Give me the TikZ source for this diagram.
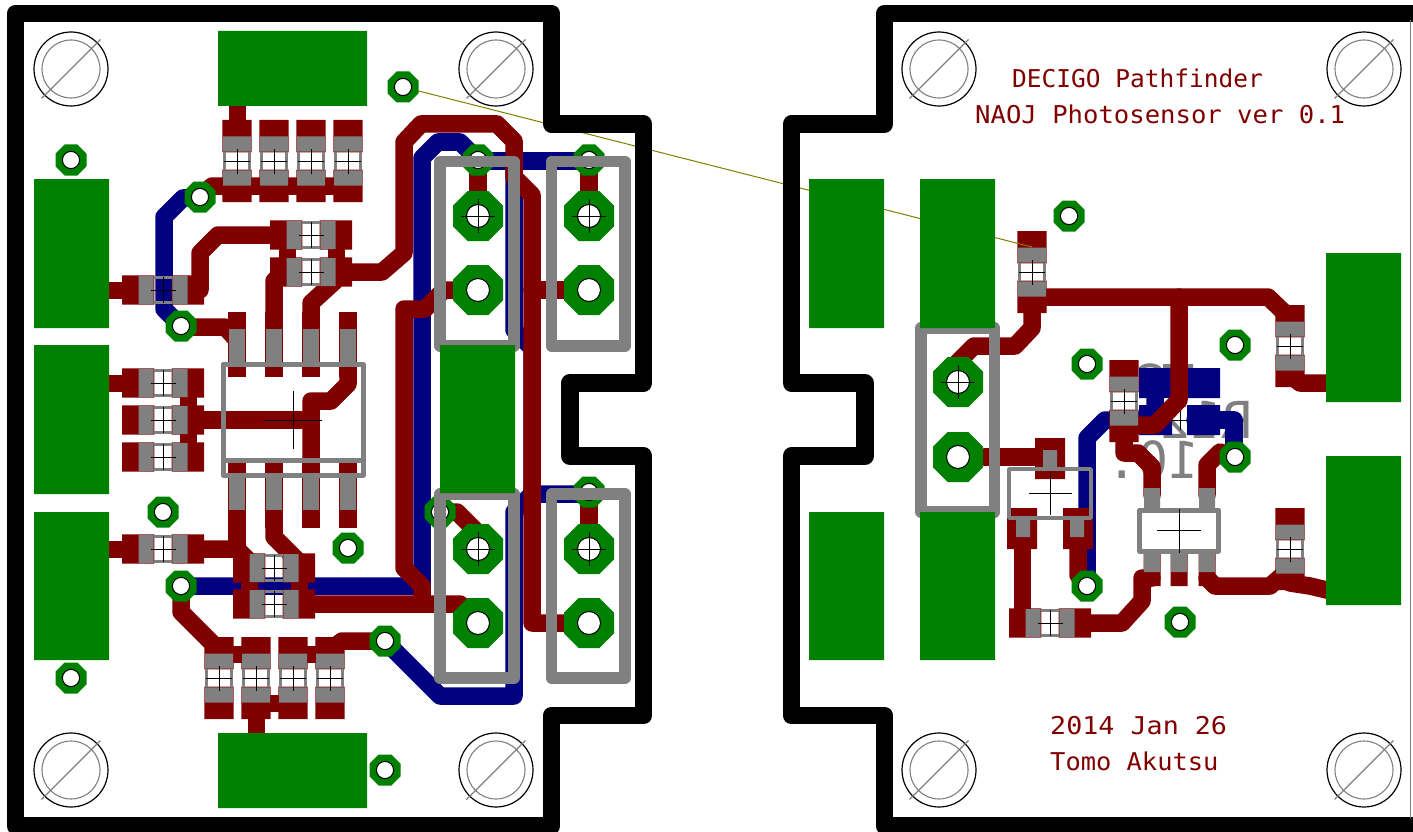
\documentclass[tikz,border=0pt]{standalone}
\usepackage{fontspec}
\newfontfamily\pcbfont{DejaVu Sans Mono}
\definecolor{pcbred}{HTML}{800000}
\definecolor{pcbblue}{HTML}{000080}
\definecolor{pcbgreen}{HTML}{008000}
\definecolor{pcbgray}{HTML}{808080}
\definecolor{airwire}{HTML}{808000}
\tikzset{
  redtrace/.style={draw=pcbred,line width=17.5pt,line cap=round,line join=round},
  bluetrace/.style={draw=pcbblue,line width=17.5pt,line cap=round,line join=round},
  redlink/.style={draw=pcbred,line width=17pt,line cap=butt},
  edge/.style={draw=black,line width=17.8pt,line join=round,line cap=butt},
  partbox/.style={draw=pcbgray,line width=11.5pt,line join=round},
  bodybox/.style={draw=pcbgray,line width=5pt,line join=round},
  crossline/.style={draw=black,line width=1pt},
  hole/.style={fill=white,draw=black,line width=1pt},
  silk/.style={anchor=base west,inner sep=0pt,text=pcbred,font=\pcbfont\fontsize{24.5}{24.5}\selectfont},
  ghost/.style={inner sep=0pt,text=pcbgray,xscale=-1,font=\pcbfont\fontsize{51}{51}\selectfont},
}
% chips: red pads and grey body, rotation as third argument
\newcommand\chipred[3]{\begin{scope}[shift={(#1,#2)},rotate=#3]
  \fill[pcbred] (-41,-14.7) rectangle (-8.7,14.7) (8.7,-14.7) rectangle (41,14.7);
\end{scope}}
\newcommand\chipbody[3]{\begin{scope}[shift={(#1,#2)},rotate=#3]
  \fill[pcbgray] (-24.5,-14) rectangle (-9.4,14) (9.4,-14) rectangle (24.5,14);
  \draw[pcbgray,line width=3.5pt] (-9.4,-12.5) -- (9.4,-12.5) (-9.4,12.5) -- (9.4,12.5);
  \draw[crossline] (-12.5,0) -- (12.5,0) (0,-13) -- (0,13);
\end{scope}}
\newcommand\via[2]{\fill[pcbgreen,shift={(#1,#2)}] (15.5,-6.4) -- (15.5,6.4) -- (6.4,15.5) -- (-6.4,15.5) -- (-15.5,6.4) -- (-15.5,-6.4) -- (-6.4,-15.5) -- (6.4,-15.5) -- cycle;
  \draw[hole] (#1,#2) circle (8.6);}
\newcommand\bigpad[2]{\fill[pcbgreen,shift={(#1,#2)}] (25,-10.4) -- (25,10.4) -- (10.4,25) -- (-10.4,25) -- (-25,10.4) -- (-25,-10.4) -- (-10.4,-25) -- (10.4,-25) -- cycle;
  \draw[hole] (#1,#2) circle (11.5);}
\newcommand\mount[2]{\draw[black,line width=1.2pt] (#1,#2) circle (37);
  \draw[pcbgray,line width=1.1pt,shift={(#1,#2)}] (0,0) circle (29) (-29.5,29.5) -- (29.5,-29.5);}
\newcommand\crossat[3]{\draw[crossline,shift={(#1,#2)}] (-#3,0) -- (#3,0) (0,-#3) -- (0,#3);}
\begin{document}
\begin{tikzpicture}[x=1pt,y=-1pt]
\useasboundingbox (0,0) rectangle (1413,832);
\clip (0,0) rectangle (1413,832);
\fill[white] (0,0) rectangle (1413,832);

% mirrored bottom-side text
\node[ghost] (ghostA) at (1206,420) {R12};
\node[ghost] (ghostB) at (1153,460) {10.};
\draw[pcbgray,line width=4pt] (1140,369) .. controls (1145,364) and (1155,364) .. (1160,369) (1163,366) -- (1193,366);

% bottom copper
\fill[pcbblue] (1139,368) rectangle (1220,398) (1139,405) rectangle (1172,435) (1187,405) rectangle (1220,435);
\draw[bluetrace] (1087,586) -- (1087,438) -- (1105,420) -- (1150,420) (1155,383) -- (1155,425);
\draw[bluetrace] (1234,457) -- (1234,420) -- (1195,420);
\draw[bluetrace] (200,197) -- (183,198) -- (164,217) -- (164,309) -- (181,326);
\draw[bluetrace] (181,586) -- (422,586) -- (422,158) -- (438,142) -- (460,142) -- (478,160);
\draw[bluetrace] (478,161) -- (589,161);
\draw[bluetrace] (514,161) -- (514,330) -- (532,348) -- (532,494);
\draw[bluetrace] (385,641) -- (440,696) -- (514,696) -- (514,512) -- (532,494) -- (589,494);
\crossat{1180}{420}{10}

% top copper: chips
\foreach \a/\b in {163/290,163/383,163/420,163/457,163/549,311/235,311/272,274/568,274/604,1050/623}
  {\chipred{\a}{\b}{0}}
\foreach \a/\b in {237/161,274/161,311/161,348/161,219/678,256/678,293/678,330/678,1032/272,1124/401,1290/346,1290/549}
  {\chipred{\a}{\b}{90}}
% op-amp pads
\foreach \a in {237,274,311,348}{
  \fill[pcbred] (\a-9,312) rectangle (\a+9,377);
  \fill[pcbred] (\a-9,463) rectangle (\a+9,528);}
% SOT pads right board
\fill[pcbred] (1035,438) rectangle (1065,479) (1007,508) rectangle (1037,549) (1063,508) rectangle (1093,549);
\fill[pcbred] (1143.5,553) rectangle (1160.5,586) (1170.5,553) rectangle (1187.5,586) (1198.5,553) rectangle (1215.5,586);

% top copper: traces left board
\draw[redlink] (237,100) -- (237,125);
\draw[redtrace] (200,197) -- (212,186) -- (340,186);
\draw[redtrace] (200,290) -- (200,253) -- (218,235) -- (285,235);
\draw[redlink] (287,235) -- (287,272) (336,235) -- (336,272);
\draw[redtrace] (336,272) -- (382,272) -- (404,253) -- (404,142) -- (421,124) -- (497,124) -- (514,141) -- (514,177) -- (532,195) -- (532,623) -- (589,623);
\draw[redtrace] (478,160) -- (478,215) (589,160) -- (589,215) (589,290) -- (532,290) (589,492) -- (589,549);
\draw[redtrace] (478,290) -- (444,290) -- (425,309) -- (404,309) -- (404,568) -- (422,586) -- (422,604);
\draw[redtrace] (300,604) -- (460,604) -- (478,623);
\draw[redtrace] (440,512) -- (457,512) -- (478,533);
\draw[redtrace] (181,327) -- (225,327) -- (237,340);
\draw[redtrace] (283,272) -- (274,281) -- (274,330);
\draw[redtrace] (335,281) -- (311,303) -- (311,330);
\draw[redtrace] (348,370) -- (348,384) -- (331,401) -- (311,401) -- (311,465);
\draw[redtrace] (195,420) -- (311,420);
\draw[redlink] (188,383) -- (188,457);
\draw[redlink] (100,290) -- (130,290) (100,383) -- (130,383) (100,549) -- (130,549);
\draw[redtrace] (200,549) -- (237,549) -- (249,561);
\draw[redtrace] (237,515) -- (237,549);
\draw[redlink] (249,568) -- (249,604) (299,568) -- (299,604);
\draw[redtrace] (274,515) -- (274,537) -- (299,562);
\draw[redtrace] (181,586) -- (181,612) -- (215,646);
\draw[redlink] (219,654) -- (256,654) (293,654) -- (330,654) (256,703) -- (293,703) (256,700) -- (256,740);
\draw[redtrace] (330,650) -- (342,641) -- (385,641);

% top copper: traces right board
\draw[redtrace] (1032,297) -- (1268,297) -- (1290,318);
\draw[redtrace] (1290,375) -- (1300,383) -- (1335,383);
\draw[redtrace] (955,365) -- (974,346) -- (1015,346) -- (1032,328) -- (1032,300);
\draw[redtrace] (1179,297) -- (1179,400) -- (1155,425) -- (1124,425);
\draw[redtrace] (1124,425) -- (1124,453) -- (1138,453) -- (1152,467) -- (1152,495);
\draw[redtrace] (1207,495) -- (1207,465) -- (1220,452) -- (1235,457);
\draw[redtrace] (1152,578) -- (1142,578) -- (1142,601) -- (1122,623) -- (1075,623);
\draw[redtrace] (1207,578) -- (1215,586) -- (1270,586) -- (1285,573);
\draw[redtrace] (1290,583) -- (1310,586) -- (1335,592);
\draw[redtrace] (985,457) -- (1050,457);
\draw[redlink] (1022,545) -- (1022,625);
\draw[redtrace] (1078,545) -- (1078,575) -- (1087,586);

% airwire
\draw[airwire,line width=1pt] (403,87) -- (1032,247);

% vias and pads
\foreach \a/\b in {403/87,71/160,200/197,181/326,163/512,348/548,181/586,71/678,385/641,385/770,478/160,589/160,440/512,589/492,1069/216,1235/345,1087/364,1235/457,1087/586,1180/622}
  {\via{\a}{\b}}
\foreach \a/\b in {478/216,589/216,478/290,589/290,478/549,589/549,478/623,589/623,958/382,958/457}
  {\bigpad{\a}{\b}}
\foreach \a/\b in {478/216,589/216,478/549,589/549,958/382}
  {\crossat{\a}{\b}{17}}

% placement layer
\foreach \a/\b in {163/290,163/383,163/420,163/457,163/549,311/235,311/272,274/568,274/604,1050/623}
  {\chipbody{\a}{\b}{0}}
\foreach \a/\b in {237/161,274/161,311/161,348/161,219/678,256/678,293/678,330/678,1032/272,1124/401,1290/346,1290/549}
  {\chipbody{\a}{\b}{90}}
\foreach \a in {237,274,311,348}{
  \fill[pcbgray] (\a-8,329) rectangle (\a+8,364);
  \fill[pcbgray] (\a-8,475) rectangle (\a+8,510);}
\draw[bodybox] (223,364.5) rectangle (363,475);
\draw[bodybox] (223,460) -- (363,460);
\draw[crossline] (264,420) -- (322,420) (293,391) -- (293,449);
% right board packages
\fill[pcbgray] (1043,450) rectangle (1057,467) (1016,520) rectangle (1030,537) (1070,520) rectangle (1084,537);
\draw[pcbgray,line width=3.5pt,line join=round] (1009,469) rectangle (1091,518);
\draw[crossline] (1028.5,493.5) -- (1071.5,493.5) (1050,472) -- (1050,515);
\fill[pcbgray] (1144,488) rectangle (1160,508) (1199,488) rectangle (1215,508);
\fill[pcbgray] (1144,553) rectangle (1160,572) (1171,553) rectangle (1187,572) (1199,553) rectangle (1215,572);
\draw[bodybox] (1139.5,510) rectangle (1218.5,551);
\draw[crossline] (1157,530.5) -- (1201,530.5) (1179,508.5) -- (1179,552.5);
\draw[partbox] (440,161.5) rectangle (514,346);
\draw[partbox] (551.5,161.5) rectangle (625,346);
\draw[partbox] (440,494) rectangle (514,678);
\draw[partbox] (551.5,494) rectangle (625,678);
\draw[partbox] (921,328) rectangle (994.5,512);

% big pads
\fill[pcbgreen] (218,31) rectangle (367,106) (218,733) rectangle (367,808)
  (34,179) rectangle (109,328) (34,345) rectangle (109,494) (34,512) rectangle (109,660)
  (440,345) rectangle (515,493)
  (809,179) rectangle (884,328) (920,179) rectangle (995,328)
  (809,512) rectangle (884,660) (920,512) rectangle (995,660)
  (1326,253) rectangle (1401,402) (1326,456) rectangle (1401,605);

% mounting holes
\foreach \a/\b in {71/69,496/69,71/770,496/770,939/69,1364/69,939/770,1364/770}
  {\mount{\a}{\b}}

% board outlines
\draw[edge] (15.5,13.5) -- (551.5,13.5) -- (551.5,124) -- (643.5,124) -- (643.5,383) -- (569.7,383) -- (569.7,456) -- (643.5,456) -- (643.5,715.5) -- (551.5,715.5) -- (551.5,826) -- (15.5,826) -- cycle;
\draw[edge] (1430,13.5) -- (884.5,13.5) -- (884.5,124) -- (791.5,124) -- (791.5,383) -- (865,383) -- (865,456) -- (791.5,456) -- (791.5,715.5) -- (884.5,715.5) -- (884.5,826) -- (1430,826);
\draw[pcbgray,line width=1pt] (1410,20) -- (1410,818);

% silk text
\node[silk] (title) at (1012,88) {DECIGO Pathfinder};
\node[silk,xscale=1.045] (subtitle) at (975,124) {NAOJ Photosensor ver 0.1};
\node[silk,xscale=1.09] (date) at (1050,734) {2014 Jan 26};
\node[silk,xscale=1.037] (author) at (1050,770) {Tomo Akutsu};
\end{tikzpicture}
\end{document}
